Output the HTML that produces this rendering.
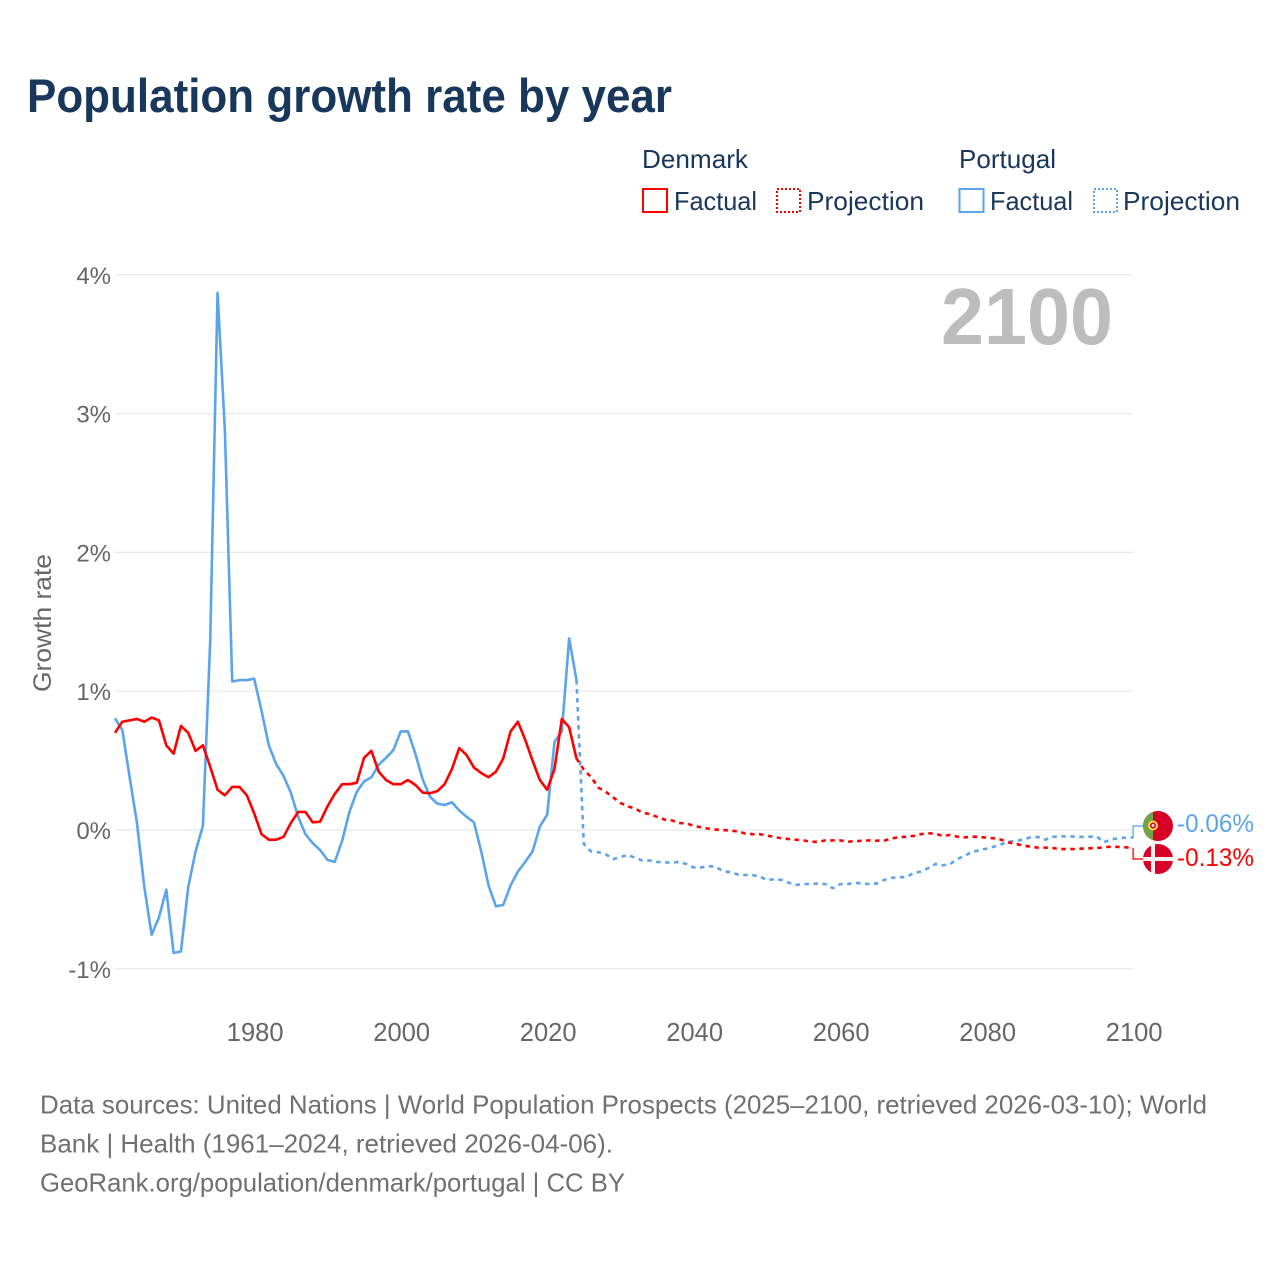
<!DOCTYPE html>
<html lang="en">
<head>
<meta charset="utf-8">
<title>Population growth rate by year</title>
<style>
html,body{margin:0;padding:0;background:#fff;}
svg{display:block;font-family:"Liberation Sans",sans-serif;}
</style>
</head>
<body>
<svg id="chart" xmlns="http://www.w3.org/2000/svg" width="1280" height="1280" viewBox="0 0 1280 1280">
  <rect x="0" y="0" width="1280" height="1280" fill="#fff"/>
  <text x="27" y="112" font-size="47" font-weight="700" fill="#18375a" textLength="645" lengthAdjust="spacingAndGlyphs">Population growth rate by year</text>

  <g font-size="26" fill="#18375a">
    <text x="642" y="168" textLength="106" lengthAdjust="spacingAndGlyphs">Denmark</text>
    <text x="959" y="168" textLength="97" lengthAdjust="spacingAndGlyphs">Portugal</text>
    <rect x="643" y="189" width="24" height="23" fill="none" stroke="#ff0000" stroke-width="2"/>
    <text x="674" y="210" textLength="83" lengthAdjust="spacingAndGlyphs">Factual</text>
    <rect x="777" y="189" width="23" height="23" fill="none" stroke="#ff0000" stroke-width="2" stroke-dasharray="2 2"/>
    <text x="807" y="210" textLength="117" lengthAdjust="spacingAndGlyphs">Projection</text>
    <rect x="959.5" y="189" width="24" height="23" fill="none" stroke="#5ba4ec" stroke-width="2"/>
    <text x="990" y="210" textLength="83" lengthAdjust="spacingAndGlyphs">Factual</text>
    <rect x="1094" y="189" width="23" height="23" fill="none" stroke="#5ba4ec" stroke-width="2" stroke-dasharray="2 2"/>
    <text x="1123" y="210" textLength="117" lengthAdjust="spacingAndGlyphs">Projection</text>
  </g>

  <g id="grid"></g>
  <text x="1113" y="344" text-anchor="end" font-size="80" font-weight="700" fill="#bdbdbd" textLength="172" lengthAdjust="spacingAndGlyphs">2100</text>
  <g id="yticks"></g>
  <g id="xticks"></g>
  <text transform="translate(51 623) rotate(-90)" text-anchor="middle" font-size="25" fill="#666" textLength="138" lengthAdjust="spacingAndGlyphs">Growth rate</text>
  <g id="series"></g>

  <g>
    <g>
      <circle cx="1158" cy="826" r="15" fill="#d80027"/>
      <path d="M1153 811.9 A15 15 0 0 0 1153 840.1 Z" fill="#6da544"/>
      <circle cx="1153" cy="825.5" r="4" fill="#d80027" stroke="#ffda44" stroke-width="2"/>
      <circle cx="1153" cy="825.5" r="1.4" fill="#fff"/>
    </g>
    <g>
      <circle cx="1158" cy="859" r="15" fill="#d80027"/>
      <rect x="1151" y="844" width="4" height="30" fill="#f0f0f0"/>
      <rect x="1143" y="857" width="30" height="4" fill="#f0f0f0"/>
    </g>
    <text x="1177" y="832" font-size="25" fill="#5ba4ec" textLength="77" lengthAdjust="spacingAndGlyphs">-0.06%</text>
    <text x="1177" y="866" font-size="25" fill="#ff0000" textLength="77" lengthAdjust="spacingAndGlyphs">-0.13%</text>
  </g>

  <g font-size="26" fill="#707070">
    <text x="40" y="1113.5" textLength="1167" lengthAdjust="spacingAndGlyphs">Data sources: United Nations | World Population Prospects (2025–2100, retrieved 2026-03-10); World</text>
    <text x="40" y="1152.5" textLength="573" lengthAdjust="spacingAndGlyphs">Bank | Health (1961–2024, retrieved 2026-04-06).</text>
    <text x="40" y="1191.5" textLength="585" lengthAdjust="spacingAndGlyphs">GeoRank.org/population/denmark/portugal | CC BY</text>
  </g>
</svg>
<script>
const firstFactualYear = 1961;
const firstProjectionYear = 2025;
const yTickValues = [-1, 0, 1, 2, 3, 4];
const yTickLabels = ["-1%", "0%", "1%", "2%", "3%", "4%"];
const xTickYears = [1980, 2000, 2020, 2040, 2060, 2080, 2100];
const xTickLabels = ["1980", "2000", "2020", "2040", "2060", "2080", "2100"];

const denmarkFactual = [0.70,0.78,0.79,0.80,0.78,0.81,0.79,0.61,0.55,0.75,0.70,0.57,0.61,0.455,0.29,0.25,0.31,0.31,0.25,0.12,
  -0.03,-0.07,-0.07,-0.05,0.05,0.13,0.13,0.055,0.06,0.17,0.26,0.33,0.33,0.34,0.52,0.57,0.42,0.36,0.33,0.33,
  0.36,0.325,0.27,0.265,0.28,0.33,0.44,0.59,0.54,0.45,0.41,0.38,0.42,0.515,0.71,0.78,0.65,0.50,0.36,0.29,
  0.44,0.80,0.74,0.515];
const portugalFactual = [0.805,0.72,0.38,0.05,-0.41,-0.755,-0.63,-0.43,-0.885,-0.875,-0.41,-0.155,0.03,1.37,3.87,2.88,1.07,1.08,1.08,1.09,
  0.86,0.61,0.475,0.39,0.27,0.095,-0.03,-0.095,-0.145,-0.215,-0.23,-0.08,0.13,0.275,0.35,0.38,0.47,0.52,0.575,0.71,
  0.71,0.55,0.365,0.24,0.19,0.18,0.20,0.14,0.095,0.055,-0.155,-0.40,-0.55,-0.54,-0.40,-0.30,-0.23,-0.155,0.025,0.11,
  0.635,0.71,1.38,1.08];
const denmarkProjection = [0.435,0.38,0.305,0.275,0.235,0.195,0.17,0.155,0.125,0.115,0.095,0.075,0.07,0.05,0.048,0.03,0.02,0.01,0.003,0,
  -0.005,-0.01,-0.025,-0.03,-0.03,-0.04,-0.05,-0.06,-0.065,-0.07,-0.075,-0.085,-0.085,-0.075,-0.075,-0.075,-0.085,-0.08,-0.078,-0.075,
  -0.077,-0.077,-0.06,-0.053,-0.048,-0.043,-0.03,-0.024,-0.026,-0.043,-0.035,-0.048,-0.053,-0.048,-0.05,-0.055,-0.06,-0.07,-0.09,-0.10,
  -0.113,-0.12,-0.127,-0.127,-0.13,-0.137,-0.137,-0.137,-0.134,-0.132,-0.13,-0.125,-0.12,-0.122,-0.125,-0.13];
const portugalProjection = [-0.10,-0.155,-0.16,-0.175,-0.21,-0.195,-0.18,-0.20,-0.22,-0.22,-0.23,-0.233,-0.235,-0.23,-0.245,-0.27,-0.27,-0.26,-0.265,-0.295,
  -0.305,-0.32,-0.325,-0.325,-0.335,-0.36,-0.355,-0.36,-0.38,-0.395,-0.39,-0.39,-0.385,-0.39,-0.42,-0.39,-0.39,-0.38,-0.385,-0.39,
  -0.385,-0.36,-0.345,-0.34,-0.34,-0.31,-0.30,-0.275,-0.245,-0.255,-0.245,-0.21,-0.185,-0.158,-0.146,-0.134,-0.12,-0.103,-0.084,-0.08,
  -0.067,-0.053,-0.05,-0.07,-0.05,-0.046,-0.046,-0.048,-0.05,-0.048,-0.046,-0.088,-0.067,-0.06,-0.055,-0.055];

const NS = 'http://www.w3.org/2000/svg';
const red = '#ff0000';
const blue = '#5ba4ec';
const xScale = function (year) { return 115 + (year - 1961) * 7.325; };
const yScale = function (value) { return 830 - value * 138.8; };

const toPath = function (startYear, values) {
  return values.map(function (v, i) {
    return (i === 0 ? 'M' : 'L') + xScale(startYear + i).toFixed(2) + ' ' + yScale(v).toFixed(2);
  }).join(' ');
};

const grid = document.getElementById('grid');
const yTicks = document.getElementById('yticks');
yTickValues.forEach(function (v, i) {
  const line = document.createElementNS(NS, 'line');
  
  
  line.setAttribute('x1', 115);
  line.setAttribute('x2', 1133);
  line.setAttribute('y1', yScale(v));
  line.setAttribute('y2', yScale(v));
  line.setAttribute('stroke', '#e8e8e8');
  line.setAttribute('stroke-width', '1.2');
  grid.appendChild(line);
  const label = document.createElementNS(NS, 'text');
  
  
  label.setAttribute('x', 111);
  label.setAttribute('y', yScale(v) + 9);
  label.setAttribute('text-anchor', 'end');
  label.setAttribute('font-size', '24');
  label.setAttribute('fill', '#666');
  label.textContent = yTickLabels[i];
  yTicks.appendChild(label);
});

const xTicks = document.getElementById('xticks');
xTickYears.forEach(function (year, i) {
  const label = document.createElementNS(NS, 'text');
  
  
  label.setAttribute('x', xScale(year) + 1);
  label.setAttribute('y', 1041);
  label.setAttribute('text-anchor', 'middle');
  label.setAttribute('font-size', '25.5');
  label.setAttribute('fill', '#666');
  label.textContent = xTickLabels[i];
  xTicks.appendChild(label);
});

const series = document.getElementById('series');
const addLine = function (name, d, color, dashed) {
  const p = document.createElementNS(NS, 'path');
  
  
  p.setAttribute('d', d);
  p.setAttribute('fill', 'none');
  p.setAttribute('stroke', color);
  p.setAttribute('stroke-width', '2.6');
  p.setAttribute('stroke-linejoin', 'round');
  if (dashed) {
    p.setAttribute('stroke-dasharray', '4.5 4.5');
  }
  series.appendChild(p);
  return p;
};

const factualEnd = function (arr) { return arr[arr.length - 1]; };
addLine('portugal-factual-line', toPath(firstFactualYear, portugalFactual), blue, false);
addLine('portugal-projection-line', toPath(firstProjectionYear - 1, [factualEnd(portugalFactual)].concat(portugalProjection)), blue, true);
addLine('denmark-factual-line', toPath(firstFactualYear, denmarkFactual), red, false);
addLine('denmark-projection-line', toPath(firstProjectionYear - 1, [factualEnd(denmarkFactual)].concat(denmarkProjection)), red, true);

const addConnector = function (name, value, flagY, color) {
  const p = document.createElementNS(NS, 'path');
  
  
  const x0 = xScale(2100);
  p.setAttribute('d', 'M' + x0 + ' ' + yScale(value) + ' V' + flagY + ' H1143');
  p.setAttribute('fill', 'none');
  p.setAttribute('stroke', color);
  p.setAttribute('stroke-width', '1.8');
  p.setAttribute('opacity', '0.75');
  series.appendChild(p);
};
addConnector('portugal-connector', factualEnd(portugalProjection), 826, blue);
addConnector('denmark-connector', factualEnd(denmarkProjection), 859, red);
</script>
</body>
</html>
